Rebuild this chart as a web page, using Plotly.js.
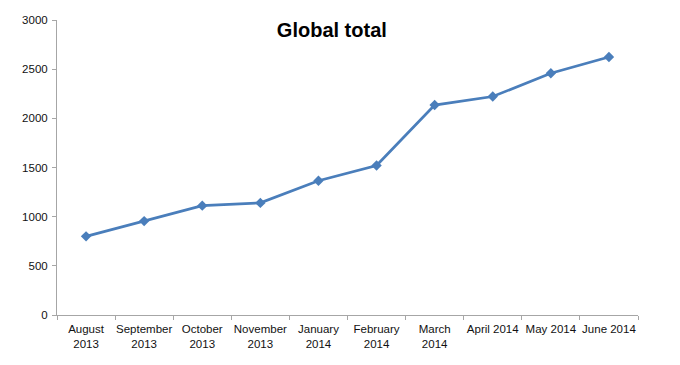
<!DOCTYPE html>
<html>
<head>
<meta charset="utf-8">
<script src="https://cdn.plot.ly/plotly-3.0.1.min.js"></script>
<style>html,body{margin:0;padding:0;background:#fff;}#chart{width:680px;height:365px;}</style>
</head>
<body>
<div id="chart"></div>
<script>
const categories = ["August<br>2013", "September<br>2013", "October<br>2013", "November<br>2013", "January<br>2014", "February<br>2014", "March<br>2014", "April 2014", "May 2014", "June 2014"];
const totals = [800, 955, 1112, 1140, 1365, 1520, 2135, 2222, 2458, 2624];
const yTicks = [0, 500, 1000, 1500, 2000, 2500, 3000];

const trace = {
  x: categories,
  y: totals,
  type: 'scatter',
  mode: 'lines+markers',
  line: {color: '#4A7EBB', width: 2.75},
  marker: {symbol: 'diamond', size: 8, color: '#4A7EBB'},
  hoverinfo: 'skip'
};

const layout = {
  width: 680, height: 365,
  margin: {l: 57, r: 42, t: 20, b: 50},
  paper_bgcolor: '#fff', plot_bgcolor: '#fff',
  showlegend: false,
  font: {family: 'Liberation Sans, Arial, sans-serif', size: 11.5, color: '#111'},
  title: {text: '<b>Global total</b>', x: 0.488, xanchor: 'center', y: 0.918, yanchor: 'middle',
          font: {family: 'Liberation Sans, Arial, sans-serif', size: 20, color: '#000'}},
  xaxis: {
    type: 'category', tickson: 'boundaries',
    showline: true, linecolor: '#a6a6a6', linewidth: 1,
    ticks: 'outside', ticklen: 4, tickcolor: '#a6a6a6',
    showgrid: false, zeroline: false,
    tickfont: {size: 11.5, color: '#111'}, tickangle: 0,
    ticklabelstandoff: 3,
    range: [-0.5, 9.5]
  },
  yaxis: {
    range: [0, 3000], tickvals: yTicks,
    showline: true, linecolor: '#a6a6a6', linewidth: 1,
    ticks: 'outside', ticklen: 4, tickcolor: '#a6a6a6',
    showgrid: false, zeroline: false,
    ticklabelstandoff: 2,
    tickfont: {size: 11.5, color: '#111'}
  }
};

Plotly.newPlot('chart', [trace], layout, {staticPlot: true, displayModeBar: false});
</script>
</body>
</html>
